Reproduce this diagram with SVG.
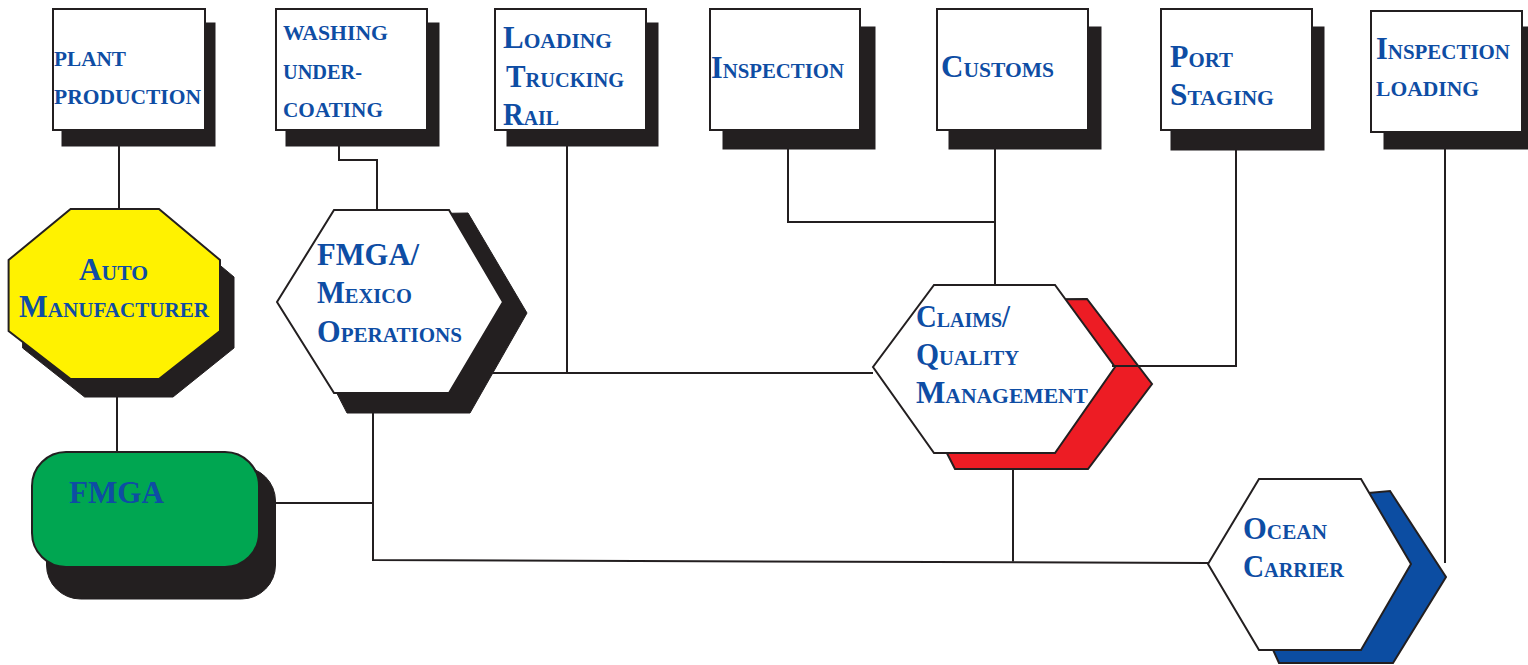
<svg xmlns="http://www.w3.org/2000/svg" width="1528" height="665" viewBox="0 0 1528 665">
<style>
.box{fill:#fff;stroke:#231F20;stroke-width:2}
.shd{fill:#231F20;stroke:#231F20;stroke-width:1}
.hex{fill:#fff;stroke:#231F20;stroke-width:2;stroke-linejoin:miter}
.lbl{font-family:"Liberation Serif","Times New Roman",serif;font-weight:bold;fill:#0E4DA4;font-size:21.5px}
.big{font-size:31px}
.con{fill:none;stroke:#231F20;stroke-width:2}
</style>
<rect width="1528" height="665" fill="#fff"/>

<g id="plant-production">
<rect class="shd" x="62" y="23" width="153" height="123"/>
<rect class="box" x="53" y="9" width="152" height="121"/>
<text class="lbl" x="54" y="66" textLength="72" lengthAdjust="spacingAndGlyphs">PLANT</text>
<text class="lbl" x="54" y="104" textLength="147" lengthAdjust="spacingAndGlyphs">PRODUCTION</text>
</g>

<g id="washing-undercoating">
<rect class="shd" x="286" y="23" width="153" height="123"/>
<rect class="box" x="276" y="9" width="151" height="121"/>
<text class="lbl" x="283" y="40" textLength="105" lengthAdjust="spacingAndGlyphs">WASHING</text>
<text class="lbl" x="283" y="79" textLength="79" lengthAdjust="spacingAndGlyphs">UNDER-</text>
<text class="lbl" x="283" y="117" textLength="100" lengthAdjust="spacingAndGlyphs">COATING</text>
</g>

<g id="loading-trucking-rail">
<rect class="shd" x="507" y="23" width="151" height="123"/>
<rect class="box" x="495" y="9" width="151" height="121"/>
<text class="lbl" x="503" y="48" textLength="109" lengthAdjust="spacingAndGlyphs"><tspan class="big">L</tspan>OADING</text>
<text class="lbl" x="506" y="87" textLength="118" lengthAdjust="spacingAndGlyphs"><tspan class="big">T</tspan>RUCKING</text>
<text class="lbl" x="503" y="125" textLength="56" lengthAdjust="spacingAndGlyphs"><tspan class="big">R</tspan>AIL</text>
</g>

<g id="inspection">
<rect class="shd" x="723" y="27" width="152" height="122"/>
<rect class="box" x="710" y="9" width="150" height="121"/>
<text class="lbl" x="711" y="78" textLength="133" lengthAdjust="spacingAndGlyphs"><tspan class="big">I</tspan>NSPECTION</text>
</g>

<g id="customs">
<rect class="shd" x="949" y="27" width="152" height="122"/>
<rect class="box" x="937" y="9" width="151" height="121"/>
<text class="lbl" x="941" y="77" textLength="113" lengthAdjust="spacingAndGlyphs"><tspan class="big">C</tspan>USTOMS</text>
</g>

<g id="port-staging">
<rect class="shd" x="1171" y="27" width="153" height="123"/>
<rect class="box" x="1161" y="9" width="151" height="121"/>
<text class="lbl" x="1170" y="67" textLength="63" lengthAdjust="spacingAndGlyphs"><tspan class="big">P</tspan>ORT</text>
<text class="lbl" x="1170" y="105" textLength="104" lengthAdjust="spacingAndGlyphs"><tspan class="big">S</tspan>TAGING</text>
</g>

<g id="inspection-loading">
<rect class="shd" x="1384" y="27" width="150" height="122"/>
<rect class="box" x="1371" y="11" width="151" height="121"/>
<text class="lbl" x="1376" y="59" textLength="134" lengthAdjust="spacingAndGlyphs"><tspan class="big">I</tspan>NSPECTION</text>
<text class="lbl" x="1376" y="96" textLength="103" lengthAdjust="spacingAndGlyphs">LOADING</text>
</g>

<g id="auto-manufacturer">
<polygon class="shd" points="84.6,226 173,226 234,277 234,348 173,397 84.6,397 22.6,348 22.6,277"/>
<polygon class="hex" fill="#FFF200" style="fill:#FFF200" points="70.6,209 159,209 220,260 220,331 159,379 70.6,379 8.6,331 8.6,260"/>
<text class="lbl" x="79" y="280" textLength="69" lengthAdjust="spacingAndGlyphs"><tspan class="big">A</tspan>UTO</text>
<text class="lbl" x="19" y="317" textLength="190" lengthAdjust="spacingAndGlyphs"><tspan class="big">M</tspan>ANUFACTURER</text>
</g>

<g id="fmga">
<rect class="shd" x="46.5" y="467" width="229" height="132" rx="34" ry="34"/>
<rect x="32" y="452" width="227" height="115" rx="34" ry="34" fill="#00A651" stroke="#231F20" stroke-width="2"/>
<text class="lbl big" x="69" y="503" textLength="95" lengthAdjust="spacingAndGlyphs">FMGA</text>
</g>

<g id="fmga-mexico-operations">
<polygon class="shd" points="340,215 468,213 527,313 470,413 347,413 312,345"/>
<polygon class="hex" points="334,210 449,210 503,302 449,393 334,393 277,302"/>
<text class="lbl big" x="317" y="265" textLength="102" lengthAdjust="spacingAndGlyphs">FMGA/</text>
<text class="lbl" x="317" y="303" textLength="95" lengthAdjust="spacingAndGlyphs"><tspan class="big">M</tspan>EXICO</text>
<text class="lbl" x="317" y="342" textLength="145" lengthAdjust="spacingAndGlyphs"><tspan class="big">O</tspan>PERATIONS</text>
</g>

<g id="claims-quality-management">
<polygon points="940,300 1087,299 1152,384 1088,469 955,469 930,420" fill="#ED1C24" stroke="#231F20" stroke-width="2"/>
<polygon class="hex" points="934,285 1055,285 1115,367 1055,453 934,453 873,367"/>
<text class="lbl" x="916" y="327" textLength="94" lengthAdjust="spacingAndGlyphs"><tspan class="big">C</tspan>LAIMS<tspan class="big">/</tspan></text>
<text class="lbl" x="916" y="365" textLength="103" lengthAdjust="spacingAndGlyphs"><tspan class="big">Q</tspan>UALITY</text>
<text class="lbl" x="916" y="403" textLength="172" lengthAdjust="spacingAndGlyphs"><tspan class="big">M</tspan>ANAGEMENT</text>
</g>

<g id="ocean-carrier">
<polygon points="1290,500 1390,491 1446,577 1393,663 1279,663 1255,610" fill="#0C4DA2" stroke="#231F20" stroke-width="2"/>
<polygon class="hex" points="1259,479 1361,479 1411,564 1361,650 1259,650 1208,564"/>
<text class="lbl" x="1243" y="539" textLength="84" lengthAdjust="spacingAndGlyphs"><tspan class="big">O</tspan>CEAN</text>
<text class="lbl" x="1243" y="577" textLength="101" lengthAdjust="spacingAndGlyphs"><tspan class="big">C</tspan>ARRIER</text>
</g>

<g id="connectors">
<polyline class="con" points="119,146 119,209"/>
<polyline class="con" points="339,146 339,160 377,160 377,210"/>
<polyline class="con" points="117,397 117,452"/>
<polyline class="con" points="567,146 567,373"/>
<polyline class="con" points="493,373 873,373"/>
<polyline class="con" points="275,503 373,503"/>
<polyline class="con" points="373,413 373,560 1208,563"/>
<polyline class="con" points="1013,469 1013,561.5"/>
<polyline class="con" points="788,149 788,222 995,222"/>
<polyline class="con" points="995,149 995,285"/>
<polyline class="con" points="1236,150 1236,366 1112,366"/>
<polyline class="con" points="1445,149 1445,563"/>
</g>
</svg>
